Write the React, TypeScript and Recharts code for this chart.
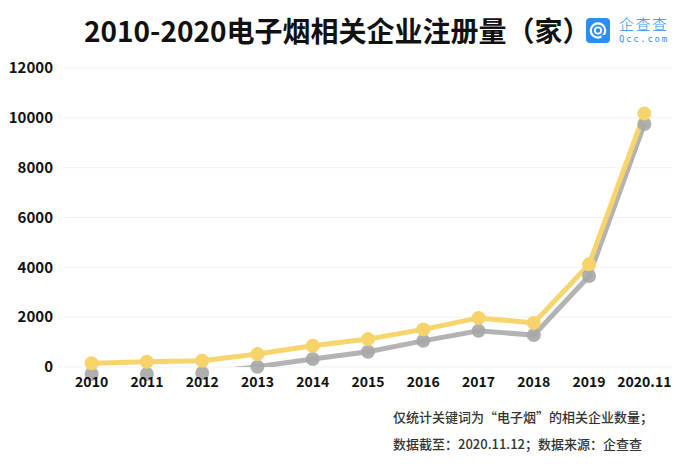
import React from "react";
import { LineChart, Line, XAxis, YAxis, CartesianGrid } from "recharts";

const years = ["2010", "2011", "2012", "2013", "2014", "2015", "2016", "2017", "2018", "2019", "2020.11"];
const registrations = [150, 210, 250, 520, 850, 1120, 1510, 1970, 1770, 4120, 10170];
// grey drop shadow under the yellow line
const shadowValues = [-280, -280, -240, 10, 320, 610, 1050, 1450, 1280, 3650, 9750];
const yTicks = [0, 2000, 4000, 6000, 8000, 10000, 12000];

const data = years.map((year, i) => ({
    year,
    count: registrations[i],
    shadow: shadowValues[i],
}));

const font = '"Noto Sans CJK SC", "Noto Sans", sans-serif';
const blue = "#2b8ff2";

const QccLogo = () => (
    <div style={{ position: "absolute", left: 586, top: 16, display: "flex", alignItems: "center" }}>
        <svg width={24} height={25} viewBox="0 0 24 25">
            <rect x={0} y={0} width={24} height={25} rx={4} fill={blue} />
            <circle cx={12} cy={12.5} r={7.2} fill="none" stroke="#fff" strokeWidth={2.2} />
            <circle cx={12} cy={12.5} r={3.2} fill="none" stroke="#fff" strokeWidth={1.8} />
            <rect x={15.5} y={17} width={5} height={4} fill={blue} />
        </svg>
        <div style={{ marginLeft: 9, lineHeight: 1 }}>
            <div style={{ fontFamily: font, fontSize: 15, fontWeight: 300, color: blue, letterSpacing: 1.5 }}>企查查</div>
            <div style={{ fontFamily: '"DejaVu Sans Mono", monospace', fontSize: 9, color: blue, marginTop: 4, letterSpacing: 1.7 }}>Qcc.com</div>
        </div>
    </div>
);

export default function App() {
    return (
        <div style={{ position: "absolute", left: 0, top: 0, width: 688, height: 468, background: "#fff", overflow: "hidden" }}>
            <div
                style={{
                    position: "absolute",
                    left: 84,
                    top: 10,
                    fontFamily: font,
                    fontWeight: 700,
                    fontSize: 28,
                    color: "#111",
                    whiteSpace: "nowrap",
                }}
            >
                2010-2020电子烟相关企业注册量（家）
            </div>
            <QccLogo />
            <LineChart
                width={688}
                height={468}
                data={data}
                margin={{ top: 68, right: 16, bottom: 71, left: 4 }}
            >
                <CartesianGrid vertical={false} stroke="#f1f1f1" />
                <XAxis
                    dataKey="year"
                    scale="band"
                    axisLine={false}
                    tickLine={false}
                    tickSize={0}
                    tickMargin={10}
                    height={30}
                    interval={0}
                    tick={{ fontFamily: font, fontSize: 14, fontWeight: 700, fill: "#111" }}
                />
                <YAxis
                    domain={[0, 12000]}
                    ticks={yTicks}
                    allowDataOverflow
                    axisLine={false}
                    tickLine={false}
                    tickSize={0}
                    tickMargin={11}
                    width={60}
                    tick={{ fontFamily: font, fontSize: 15, fontWeight: 700, fill: "#111" }}
                />
                <Line
                    dataKey="shadow"
                    stroke="#a6a6a6"
                    strokeWidth={5}
                    strokeOpacity={0.85}
                    dot={{ r: 7, fill: "#a6a6a6", stroke: "none", strokeWidth: 30, fillOpacity: 0.9, clipDot: false }}
                    activeDot={false}
                    isAnimationActive={false}
                />
                <Line
                    dataKey="count"
                    stroke="#f6d56d"
                    strokeWidth={5}
                    dot={{ r: 7, fill: "#f6d46a", stroke: "none", strokeWidth: 30, clipDot: false }}
                    activeDot={false}
                    isAnimationActive={false}
                />
            </LineChart>
            <div
                style={{
                    position: "absolute",
                    left: 393,
                    top: 403,
                    fontFamily: font,
                    fontSize: 13,
                    fontWeight: 500,
                    color: "#333",
                    lineHeight: "27px",
                    whiteSpace: "nowrap",
                }}
            >
                <div>仅统计关键词为“电子烟”的相关企业数量；</div>
                <div>数据截至：2020.11.12；数据来源：企查查</div>
            </div>
        </div>
    );
}
